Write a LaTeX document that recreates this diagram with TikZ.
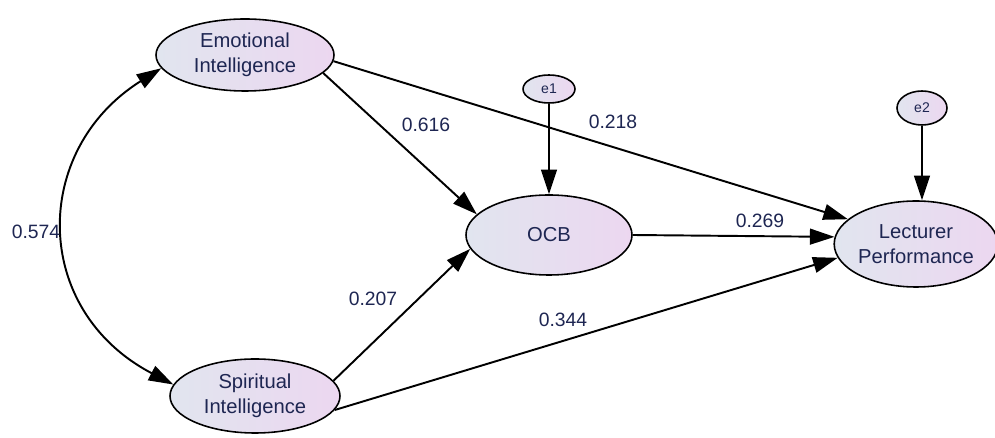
\documentclass[tikz,border=0pt]{standalone}
\usepackage{fontspec}
\setmainfont{Liberation Sans}
\usetikzlibrary{shapes.geometric}
\usetikzlibrary{arrows.meta}

\definecolor{textNavy}{RGB}{30,38,82}
\definecolor{fillLeft}{RGB}{225,229,239}
\definecolor{fillRight}{RGB}{236,215,240}

\begin{document}
\begin{tikzpicture}
[x=0.02cm,y=-0.02cm,%
  lineDecorate/.style={-{Triangle[length=14pt,width=9pt]},line width=1.1pt},%
  nodeDecorate/.style={shape=ellipse,draw,line width=0.9pt,inner sep=0pt,%
    left color=fillLeft,right color=fillRight,text=textNavy,align=center,%
    font=\fontsize{11.5}{14}\selectfont},%
  labelDecorate/.style={text=textNavy,inner sep=1pt,font=\fontsize{11}{13}\selectfont}]
\useasboundingbox (0,0) rectangle (995,438);
%% latent variables
\foreach \nodename/\x/\y/\w/\h/\txt in {
  ei/245/55/178/72/{Emotional\\Intelligence},
  si/255/396/170/74/{Spiritual\\Intelligence},
  ocb/549/235/166/80/{OCB},
  lp/916/244/158/86/{Lecturer\\Performance}}
{
  \node[nodeDecorate,minimum width=\w*0.02cm,minimum height=\h*0.02cm] (\nodename) at (\x,\y) {\txt};
}
%% error terms
\node[nodeDecorate,minimum width=1.04cm,minimum height=0.56cm,font=\fontsize{8}{9}\selectfont] (e1) at (549,89) {e1};
\node[nodeDecorate,minimum width=1.0cm,minimum height=0.68cm,font=\fontsize{8}{9}\selectfont] (e2) at (922,108) {e2};
%% paths
\path
(ei.-13) edge[lineDecorate] (ocb.164)
(ei.-4.5) edge[lineDecorate] (lp.160)
(ocb.0) edge[lineDecorate] (lp.175.5)
(si.11) edge[lineDecorate] (ocb.190.6)
(si.-10.7) edge[lineDecorate] (lp.190.7)
(e1) edge[lineDecorate] (ocb)
(e2) edge[lineDecorate] (e2 |- lp.north);
%% covariance
\draw[lineDecorate,{Triangle[length=14pt,width=9pt]}-{Triangle[length=14pt,width=9pt]}]
  (ei.189) .. controls (31,150) and (31,310) .. (si.172);
%% path labels
\foreach \nodename/\x/\y/\val in {
  lab616/426/125/0.616, lab218/613/122/0.218, lab269/760/221/0.269,
  lab207/373/299/0.207, lab344/563/320/0.344, lab574/36/232/0.574}
{
  \node[labelDecorate] (\nodename) at (\x,\y) {\val};
}
\end{tikzpicture}
\end{document}
